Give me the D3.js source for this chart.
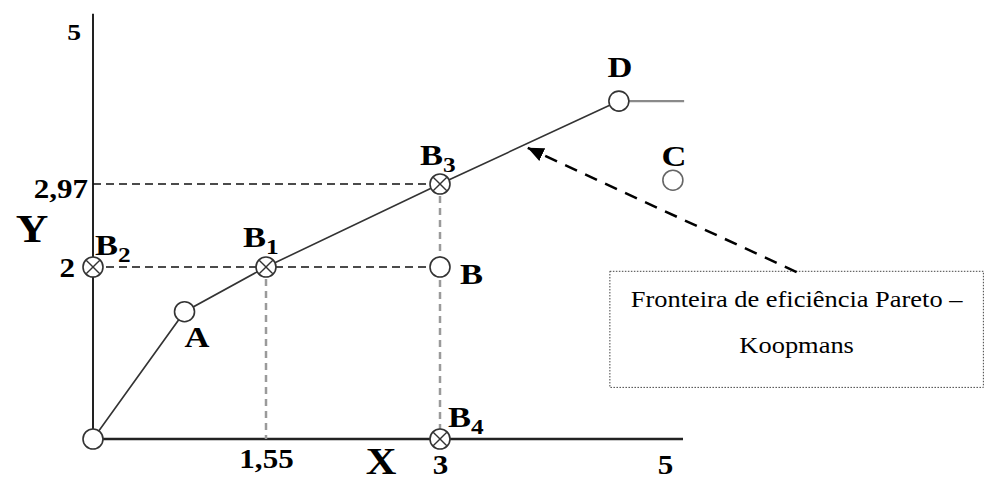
<!DOCTYPE html>
<html>
<head>
<meta charset="utf-8">
<script src="https://cdn.jsdelivr.net/npm/d3@7"></script>
<style>
  body { margin: 0; background: #fff; }
  svg { display: block; }
  text { font-family: "Liberation Serif", "Times New Roman", serif; }
</style>
</head>
<body>
<div id="chart"></div>
<script>
// points on the Pareto-Koopmans frontier (O, A, B1, B3, D)
const frontierNames = ["O", "A", "B1", "B3", "D"];
const frontierX = [0, 0.82, 1.55, 3, 4.59];
const frontierY = [0, 1.48, 2, 2.97, 4.07];
const tailX = 5.17; // frontier goes on flat after D

// other points
const otherNames = ["B", "B2", "B4", "C"];
const otherX = [3, 0, 3, 5.07];
const otherY = [2, 2, 0, 3.02];

const crossedNames = ["B1", "B2", "B3", "B4"];

const xTicks = [1.55, 3, 5];
const xTickLabels = ["1,55", "3", "5"];
const yTicks = [2, 2.97, 5];
const yTickLabels = ["2", "2,97", "5"];

const xMax = 5.16;
const yMax = 5.23;

const noteLines = ["Fronteira de eficiência Pareto –", "Koopmans"];

const width = 984;
const height = 481;
const stretch = 1.15;

// the drawing is not evenly spaced, so the scales are piecewise
const x = d3.scaleLinear()
  .domain([0, 1.55, 3, 5])
  .range([93, 266, 440, 665]);

const y = d3.scaleLinear()
  .domain([0, 2, 2.97, 5])
  .range([439, 267, 184, 31]);

const svg = d3.select("#chart")
  .append("svg")
  .attr("width", width)
  .attr("height", height);

svg.append("defs")
  .append("marker")
  .attr("id", "head")
  .attr("markerUnits", "userSpaceOnUse")
  .attr("viewBox", "0 0 16 14")
  .attr("refX", 16)
  .attr("refY", 7)
  .attr("markerWidth", 16)
  .attr("markerHeight", 14)
  .attr("orient", "auto")
  .append("path")
  .attr("d", "M0,0L16,7L0,14Z")
  .attr("fill", "#000");

const points = frontierNames.map((n, i) => ({ name: n, x: frontierX[i], y: frontierY[i] }))
  .concat(otherNames.map((n, i) => ({ name: n, x: otherX[i], y: otherY[i] })));
const pt = name => points.find(p => p.name === name);

// axes lines
svg.append("line")
  .attr("x1", x(0)).attr("x2", x(0))
  .attr("y1", y(0)).attr("y2", y(yMax))
  .attr("stroke", "#222").attr("stroke-width", 2);

svg.append("line")
  .attr("x1", x(0)).attr("x2", x(xMax))
  .attr("y1", y(0)).attr("y2", y(0))
  .attr("stroke", "#222").attr("stroke-width", 2.5);

// tick labels
const xOff = { "1,55": 29, "3": 35, "5": 35 };
const xAxis = svg.append("g")
  .attr("transform", `translate(0, ${y(0)})`)
  .call(d3.axisBottom(x).tickValues(xTicks).tickSize(0).tickFormat((d, i) => xTickLabels[i]));
xAxis.select(".domain").remove();
xAxis.selectAll(".tick text")
  .attr("y", null).attr("dy", null)
  .attr("transform", d => `translate(0, ${xOff[xTickLabels[xTicks.indexOf(d)]]}) scale(${stretch}, 1)`)
  .attr("fill", "#000")
  .style("font-family", '"Liberation Serif", serif')
  .style("font-weight", "bold")
  .style("font-size", "27px");

const yOff = { "2": [-18, 9, 27], "2,97": [-5, 13, 27], "5": [-12, 8, 24] };
const yAxis = svg.append("g")
  .attr("transform", `translate(${x(0)}, 0)`)
  .call(d3.axisLeft(y).tickValues(yTicks).tickSize(0).tickFormat((d, i) => yTickLabels[i]));
yAxis.select(".domain").remove();
yAxis.selectAll(".tick text")
  .each(function (d) {
    const o = yOff[yTickLabels[yTicks.indexOf(d)]];
    d3.select(this)
      .attr("x", null).attr("dy", null)
      .attr("text-anchor", "end")
      .attr("transform", `translate(${o[0]}, ${o[1]}) scale(${stretch}, 1)`)
      .attr("fill", "#000")
      .style("font-family", '"Liberation Serif", serif')
      .style("font-weight", "bold")
      .style("font-size", o[2] + "px");
  });

// axis titles
svg.append("text")
  .attr("transform", `translate(${x(0) - 61}, 242) scale(1.1, 1)`)
  .attr("text-anchor", "middle")
  .style("font-weight", "bold").style("font-size", "41px")
  .text("Y");

svg.append("text")
  .attr("transform", `translate(${x(2.51)}, 474) scale(1.12, 1)`)
  .attr("text-anchor", "middle")
  .style("font-weight", "bold").style("font-size", "38px")
  .text("X");

// guide lines
const B = pt("B"), B1 = pt("B1"), B2 = pt("B2"), B3 = pt("B3"), B4 = pt("B4");

svg.append("line")
  .attr("x1", x(0)).attr("x2", x(B3.x))
  .attr("y1", y(B3.y)).attr("y2", y(B3.y))
  .attr("stroke", "#111").attr("stroke-width", 1.5)
  .attr("stroke-dasharray", "8,5");

svg.append("line")
  .attr("x1", x(B2.x)).attr("x2", x(B.x))
  .attr("y1", y(B2.y)).attr("y2", y(B.y))
  .attr("stroke", "#111").attr("stroke-width", 1.5)
  .attr("stroke-dasharray", "8,5");

svg.append("line")
  .attr("x1", x(B1.x)).attr("x2", x(B1.x))
  .attr("y1", y(B1.y)).attr("y2", y(0))
  .attr("stroke", "#9a9a9a").attr("stroke-width", 2.5)
  .attr("stroke-dasharray", "7,5");

svg.append("line")
  .attr("x1", x(B3.x)).attr("x2", x(B4.x))
  .attr("y1", y(B3.y)).attr("y2", y(B4.y))
  .attr("stroke", "#9a9a9a").attr("stroke-width", 2.5)
  .attr("stroke-dasharray", "7,5");

// frontier
const line = d3.line().x(d => x(d.x)).y(d => y(d.y));
const frontier = frontierNames.map(pt);

svg.append("path")
  .attr("d", line(frontier))
  .attr("fill", "none")
  .attr("stroke", "#333")
  .attr("stroke-width", 1.6);

const D = pt("D");
svg.append("line")
  .attr("x1", x(D.x)).attr("x2", x(tailX))
  .attr("y1", y(D.y)).attr("y2", y(D.y))
  .attr("stroke", "#8a8a8a").attr("stroke-width", 2.2);

// points
const r = 10;
const marks = svg.selectAll(".pt")
  .data(points)
  .enter()
  .append("g")
  .attr("class", "pt")
  .attr("transform", d => `translate(${x(d.x)}, ${y(d.y)})`);

marks.append("circle")
  .attr("r", r)
  .attr("fill", "#fff")
  .attr("stroke", d => d.name === "C" ? "#666" : "#333")
  .attr("stroke-width", 1.6);

const k = r * 0.68;
marks.filter(d => crossedNames.includes(d.name))
  .selectAll(".cross")
  .data([[-k, -k, k, k], [-k, k, k, -k]])
  .enter()
  .append("line")
  .attr("x1", c => c[0]).attr("y1", c => c[1])
  .attr("x2", c => c[2]).attr("y2", c => c[3])
  .attr("stroke", "#333").attr("stroke-width", 1.4);

// point labels
const labelPos = {
  A: [0, 35, "start"],
  B: [20, 17, "start"],
  B1: [-23, -20, "start"],
  B2: [2, -12, "start"],
  B3: [-20, -19, "start"],
  B4: [8, -12, "start"],
  C: [1, -14, "middle"],
  D: [1, -24, "middle"]
};

points.filter(p => labelPos[p.name]).forEach(p => {
  const o = labelPos[p.name];
  const t = svg.append("text")
    .attr("transform", `translate(${x(p.x) + o[0]}, ${y(p.y) + o[1]}) scale(${stretch}, 1)`)
    .attr("text-anchor", o[2])
    .style("font-weight", "bold")
    .style("font-size", "30px")
    .text(p.name[0]);
  if (p.name.length > 1) {
    t.append("tspan")
      .attr("dy", 7)
      .style("font-size", "22px")
      .text(p.name.slice(1));
  }
});

// annotation box with arrow
const boxX0 = 4.51, boxX1 = 7.83, boxY0 = 1.95, boxY1 = 0.6;

svg.append("rect")
  .attr("x", x(boxX0))
  .attr("y", y(boxY0))
  .attr("width", x(boxX1) - x(boxX0))
  .attr("height", y(boxY1) - y(boxY0))
  .attr("fill", "none")
  .attr("stroke", "#444")
  .attr("stroke-width", 1)
  .attr("stroke-dasharray", "1.5,1.5");

const noteX = (x(boxX0) + x(boxX1)) / 2;
svg.selectAll(".note")
  .data(noteLines)
  .enter()
  .append("text")
  .attr("class", "note")
  .attr("transform", (d, i) => `translate(${noteX}, ${y(boxY0) + 36 + i * 46}) scale(${stretch}, 1)`)
  .attr("text-anchor", "middle")
  .style("font-size", "23px")
  .text(d => d);

svg.append("line")
  .attr("x1", x(6.17)).attr("y1", y(1.94))
  .attr("x2", x(3.78)).attr("y2", y(3.45))
  .attr("stroke", "#000")
  .attr("stroke-width", 2.5)
  .attr("stroke-dasharray", "13,9")
  .attr("marker-end", "url(#head)");
</script>
</body>
</html>
